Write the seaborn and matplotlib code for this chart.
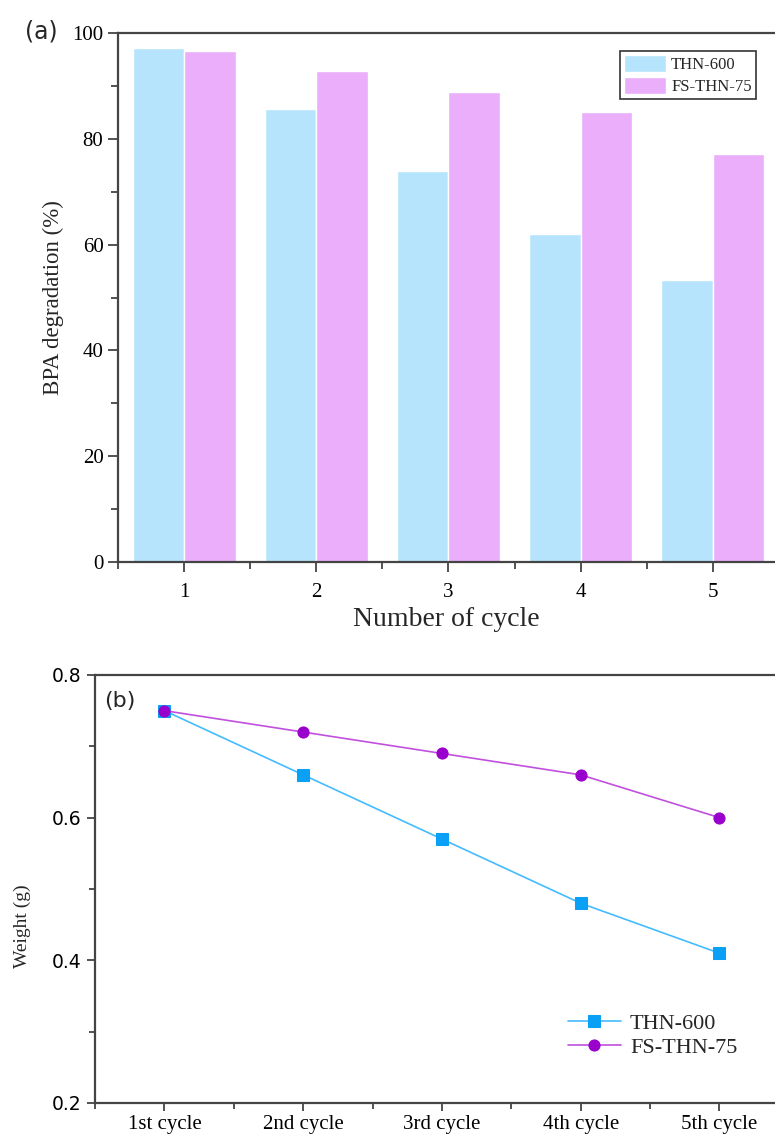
import matplotlib
matplotlib.use("Agg")
import matplotlib.pyplot as plt
import matplotlib.ticker as mticker
import seaborn as sns
import pandas as pd

# data
cycles = ["1", "2", "3", "4", "5"]
samples = ["THN-600", "FS-THN-75"]
bpa_thn600 = [97.1, 85.6, 73.9, 62.1, 53.3]
bpa_fsthn75 = [96.6, 92.8, 88.8, 85.0, 77.1]

cycle_labels = ["1st cycle", "2nd cycle", "3rd cycle", "4th cycle", "5th cycle"]
weight_thn600 = [0.75, 0.66, 0.57, 0.48, 0.41]
weight_fsthn75 = [0.75, 0.72, 0.69, 0.66, 0.60]

sns.set_theme(style="ticks")
plt.rcParams["font.family"] = ["Liberation Serif", "DejaVu Serif"]
plt.rcParams["axes.edgecolor"] = "#444444"
plt.rcParams["xtick.color"] = "#444444"
plt.rcParams["ytick.color"] = "#444444"
plt.rcParams["xtick.labelcolor"] = "black"
plt.rcParams["ytick.labelcolor"] = "black"

fig = plt.figure(figsize=(7.75, 11.35), dpi=100)
ax1 = fig.add_axes([0.1523, 0.5048, 0.8477, 0.4661])
ax2 = fig.add_axes([0.1226, 0.0282, 0.8774, 0.3771])

# %% (a) bar chart
df_bar = pd.DataFrame({
    "cycle": cycles * 2,
    "value": bpa_thn600 + bpa_fsthn75,
    "sample": [samples[0]] * 5 + [samples[1]] * 5,
})
sns.barplot(data=df_bar, x="cycle", y="value", hue="sample", ax=ax1,
            palette=["#B5E4FC", "#EBAEFB"], saturation=1, width=0.78,
            edgecolor="white", linewidth=1)
ax1.set_xlim(-0.5, 4.47)
ax1.set_ylim(0, 100)
ax1.yaxis.set_major_locator(mticker.MultipleLocator(20))
ax1.yaxis.set_minor_locator(mticker.MultipleLocator(10))
ax1.xaxis.set_minor_locator(mticker.FixedLocator([-0.5, 0.5, 1.5, 2.5, 3.5]))
ax1.set_xlabel("Number of cycle", fontsize=20, labelpad=4)
ax1.set_ylabel("BPA degradation (%)", fontsize=16.5, labelpad=6)
ax1.tick_params(axis="both", which="major", length=7, width=1.3, labelsize=15)
ax1.tick_params(axis="both", which="minor", length=5, width=1.3)
ax1.tick_params(axis="x", pad=8)
ax1.spines["right"].set_visible(False)
for s in ["left", "top", "bottom"]:
    ax1.spines[s].set_linewidth(1.6)
leg1 = ax1.legend(loc="upper right", bbox_to_anchor=(0.971, 0.966),
                  frameon=True, fancybox=False, edgecolor="black",
                  fontsize=12, handlelength=2.5, handleheight=1.2,
                  handletextpad=0.3, borderpad=0.25, labelspacing=0.2,
                  borderaxespad=0)
leg1.get_frame().set_linewidth(1.2)
fig.text(0.032, 0.972, "(a)", fontsize=17, family="DejaVu Sans", va="center")

# %% (b) weight line chart
sns.lineplot(x=cycle_labels, y=weight_thn600, ax=ax2, sort=False,
             color="#44BBFF", linewidth=1.2, marker="s", markersize=8,
             markerfacecolor="#0AA0F5", markeredgecolor="#0AA0F5",
             label=samples[0])
sns.lineplot(x=cycle_labels, y=weight_fsthn75, ax=ax2, sort=False,
             color="#C050DD", linewidth=1.2, marker="o", markersize=8,
             markerfacecolor="#9900CC", markeredgecolor="#9900CC",
             label=samples[1])
ax2.set_xlim(-0.5, 4.4)
ax2.set_ylim(0.2, 0.8)
ax2.yaxis.set_major_locator(mticker.MultipleLocator(0.2))
ax2.yaxis.set_minor_locator(mticker.MultipleLocator(0.1))
ax2.yaxis.set_major_formatter(mticker.FormatStrFormatter("%.1f"))
ax2.xaxis.set_minor_locator(mticker.FixedLocator([-0.5, 0.5, 1.5, 2.5, 3.5]))
ax2.set_xlabel("")
ax2.set_ylabel("Weight (g)", fontsize=14)
ax2.yaxis.set_label_coords(-0.094, 0.414)
ax2.tick_params(axis="both", which="major", length=6, width=1.3)
ax2.tick_params(axis="both", which="minor", length=4, width=1.3)
ax2.tick_params(axis="x", labelsize=15, pad=3)
ax2.tick_params(axis="y", labelsize=13.5)
for lab in ax2.get_yticklabels():
    lab.set_family("DejaVu Sans")
ax2.spines["right"].set_visible(False)
for s in ["left", "top", "bottom"]:
    ax2.spines[s].set_linewidth(1.6)
ax2.legend(loc="center", bbox_to_anchor=(0.82, 0.158), frameon=False,
           fontsize=16, handlelength=2.4, handletextpad=0.4,
           labelspacing=0.15)
fig.text(0.135, 0.382, "(b)", fontsize=16, family="DejaVu Sans", va="center")

fig.savefig("out.png", dpi=100)
